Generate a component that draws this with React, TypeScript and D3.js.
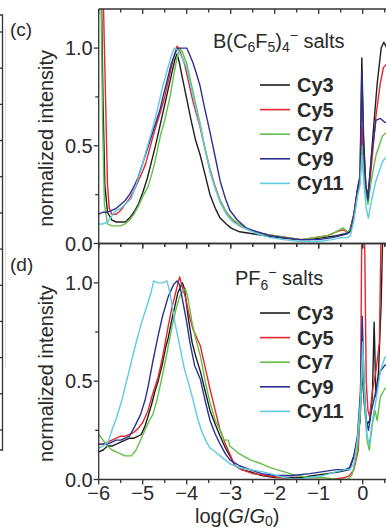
import React from 'react';
import * as d3 from 'd3';

type Pt = [number, number];

const seriesNames = ['Cy3', 'Cy5', 'Cy7', 'Cy9', 'Cy11'];
const seriesColors = ['#1e1e1e', '#e3262d', '#62bf46', '#2d3093', '#5ecbe0'];

const xTickMajor = [-6, -5, -4, -3, -2, -1, 0, 1];
const xTickMinor = [-5.5, -4.5, -3.5, -2.5, -1.5, -0.5, 0.5];
const xLabelTicks = [-6, -5, -4, -3, -2, -1, 0];
const xTickLabels = ['\u22126', '\u22125', '\u22124', '\u22123', '\u22122', '\u22121', '0'];
const yTickMajor = [0, 0.5, 1.0];
const yTickMinor = [0.25, 0.75];
const yTickLabels = ['0.0', '0.5', '1.0'];
const leftPanelTicks = [0, 1, 2, 3, 4, 5, 6, 7, 8, 9, 10, 11];

// Panel (c): B(C6F5)4- salts
const c_Cy3: Pt[] = [[-6.0, 1.3], [-5.94, 1.3], [-5.9, 0.7], [-5.86, 0.3], [-5.8, 0.16], [-5.7, 0.12], [-5.6, 0.11], [-5.5, 0.11], [-5.4, 0.11], [-5.3, 0.13], [-5.2, 0.16], [-5.1, 0.2], [-5.0, 0.26], [-4.9, 0.33], [-4.81, 0.41], [-4.7, 0.51], [-4.6, 0.61], [-4.46, 0.75], [-4.35, 0.86], [-4.27, 0.94], [-4.22, 0.97], [-4.17, 0.93], [-4.1, 0.85], [-4.0, 0.74], [-3.9, 0.63], [-3.8, 0.53], [-3.69, 0.45], [-3.58, 0.35], [-3.47, 0.25], [-3.35, 0.18], [-3.24, 0.13], [-3.1, 0.1], [-3.0, 0.08], [-2.8, 0.06], [-2.5, 0.05], [-2.2, 0.04], [-1.9, 0.03], [-1.5, 0.02], [-1.2, 0.02], [-0.9, 0.03], [-0.6, 0.04], [-0.4, 0.05], [-0.3, 0.06], [-0.2, 0.15], [-0.12, 0.28], [-0.06, 0.35], [-0.02, 0.95], [0.02, 0.55], [0.07, 0.3], [0.12, 0.24], [0.18, 0.4], [0.25, 0.6], [0.33, 0.82], [0.42, 1.0], [0.48, 1.03], [0.55, 1.0], [0.7, 0.98]];
const c_Cy5: Pt[] = [[-6.0, 1.3], [-5.9, 1.3], [-5.84, 0.7], [-5.8, 0.3], [-5.76, 0.18], [-5.7, 0.15], [-5.6, 0.15], [-5.5, 0.17], [-5.4, 0.2], [-5.3, 0.23], [-5.2, 0.27], [-5.1, 0.32], [-5.0, 0.37], [-4.93, 0.41], [-4.8, 0.52], [-4.7, 0.6], [-4.6, 0.67], [-4.5, 0.75], [-4.4, 0.85], [-4.3, 0.95], [-4.22, 1.01], [-4.15, 0.98], [-4.05, 0.92], [-3.95, 0.82], [-3.85, 0.72], [-3.7, 0.6], [-3.6, 0.5], [-3.47, 0.38], [-3.35, 0.29], [-3.24, 0.22], [-3.1, 0.16], [-2.95, 0.12], [-2.8, 0.09], [-2.6, 0.07], [-2.3, 0.05], [-2.0, 0.04], [-1.7, 0.03], [-1.4, 0.02], [-1.1, 0.03], [-0.8, 0.04], [-0.6, 0.06], [-0.45, 0.07], [-0.35, 0.06], [-0.28, 0.07], [-0.2, 0.15], [-0.12, 0.27], [-0.06, 0.33], [-0.02, 0.6], [0.03, 0.4], [0.08, 0.27], [0.12, 0.23], [0.2, 0.4], [0.3, 0.65], [0.4, 0.82], [0.47, 0.9], [0.55, 0.92], [0.7, 0.92]];
const c_Cy7: Pt[] = [[-6.0, 1.3], [-5.95, 1.3], [-5.91, 0.6], [-5.87, 0.2], [-5.8, 0.1], [-5.7, 0.09], [-5.6, 0.09], [-5.5, 0.09], [-5.4, 0.1], [-5.3, 0.12], [-5.2, 0.15], [-5.1, 0.19], [-5.0, 0.24], [-4.88, 0.29], [-4.8, 0.35], [-4.73, 0.41], [-4.6, 0.55], [-4.5, 0.63], [-4.38, 0.75], [-4.28, 0.88], [-4.2, 0.97], [-4.16, 1.0], [-4.1, 0.98], [-4.0, 0.92], [-3.9, 0.82], [-3.8, 0.72], [-3.69, 0.61], [-3.58, 0.48], [-3.47, 0.37], [-3.35, 0.28], [-3.24, 0.22], [-3.1, 0.16], [-3.0, 0.13], [-2.8, 0.1], [-2.6, 0.07], [-2.3, 0.05], [-2.0, 0.04], [-1.7, 0.03], [-1.4, 0.02], [-1.1, 0.03], [-0.8, 0.04], [-0.6, 0.06], [-0.45, 0.08], [-0.35, 0.06], [-0.28, 0.07], [-0.2, 0.13], [-0.12, 0.25], [-0.06, 0.32], [-0.02, 0.5], [0.03, 0.35], [0.08, 0.25], [0.12, 0.2], [0.2, 0.33], [0.3, 0.45], [0.45, 0.55], [0.6, 0.58], [0.7, 0.6]];
const c_Cy9: Pt[] = [[-6.0, 0.15], [-5.9, 0.16], [-5.8, 0.16], [-5.7, 0.17], [-5.6, 0.18], [-5.5, 0.2], [-5.4, 0.22], [-5.3, 0.25], [-5.2, 0.29], [-5.1, 0.34], [-5.0, 0.41], [-4.9, 0.48], [-4.8, 0.55], [-4.7, 0.62], [-4.6, 0.69], [-4.54, 0.75], [-4.45, 0.83], [-4.35, 0.92], [-4.25, 0.98], [-4.2, 1.0], [-4.1, 1.0], [-4.0, 1.0], [-3.92, 0.96], [-3.85, 0.92], [-3.78, 0.87], [-3.7, 0.81], [-3.6, 0.7], [-3.47, 0.57], [-3.35, 0.44], [-3.24, 0.32], [-3.12, 0.23], [-3.02, 0.17], [-2.85, 0.12], [-2.65, 0.08], [-2.4, 0.06], [-2.1, 0.04], [-1.8, 0.03], [-1.4, 0.02], [-1.0, 0.02], [-0.7, 0.03], [-0.5, 0.04], [-0.35, 0.05], [-0.28, 0.06], [-0.2, 0.14], [-0.12, 0.27], [-0.06, 0.33], [-0.02, 0.88], [0.02, 0.5], [0.07, 0.3], [0.12, 0.22], [0.2, 0.45], [0.3, 0.63], [0.4, 0.64], [0.5, 0.62], [0.7, 0.62]];
const c_Cy11: Pt[] = [[-6.0, 0.1], [-5.9, 0.1], [-5.8, 0.11], [-5.7, 0.14], [-5.6, 0.17], [-5.5, 0.18], [-5.4, 0.2], [-5.26, 0.23], [-5.15, 0.3], [-5.05, 0.37], [-4.95, 0.45], [-4.85, 0.53], [-4.75, 0.61], [-4.65, 0.7], [-4.55, 0.8], [-4.45, 0.88], [-4.35, 0.96], [-4.28, 1.0], [-4.2, 0.99], [-4.1, 0.95], [-4.0, 0.9], [-3.9, 0.8], [-3.8, 0.7], [-3.69, 0.6], [-3.58, 0.48], [-3.47, 0.37], [-3.35, 0.28], [-3.24, 0.21], [-3.1, 0.15], [-2.95, 0.11], [-2.7, 0.08], [-2.4, 0.05], [-2.1, 0.03], [-1.8, 0.02], [-1.4, 0.01], [-1.0, 0.01], [-0.7, 0.02], [-0.5, 0.03], [-0.35, 0.03], [-0.28, 0.04], [-0.2, 0.12], [-0.12, 0.24], [-0.06, 0.3], [-0.02, 0.45], [0.03, 0.3], [0.08, 0.18], [0.13, 0.13], [0.2, 0.22], [0.3, 0.32], [0.45, 0.42], [0.6, 0.46], [0.7, 0.48]];

// Panel (d): PF6- salts
const d_Cy3: Pt[] = [[-6.0, 0.14], [-5.9, 0.15], [-5.8, 0.17], [-5.7, 0.17], [-5.6, 0.18], [-5.5, 0.19], [-5.4, 0.2], [-5.3, 0.21], [-5.2, 0.21], [-5.1, 0.22], [-5.03, 0.23], [-4.95, 0.27], [-4.88, 0.32], [-4.8, 0.38], [-4.72, 0.45], [-4.65, 0.5], [-4.55, 0.59], [-4.48, 0.67], [-4.42, 0.72], [-4.35, 0.8], [-4.27, 0.88], [-4.2, 0.95], [-4.1, 1.0], [-4.05, 0.97], [-3.97, 0.83], [-3.88, 0.7], [-3.8, 0.63], [-3.69, 0.55], [-3.58, 0.45], [-3.47, 0.35], [-3.35, 0.28], [-3.24, 0.22], [-3.12, 0.16], [-3.02, 0.12], [-2.9, 0.07], [-2.75, 0.05], [-2.56, 0.04], [-2.3, 0.02], [-2.0, 0.01], [-1.7, 0.01], [-1.4, 0.01], [-1.1, 0.02], [-0.8, 0.03], [-0.5, 0.04], [-0.3, 0.05], [-0.2, 0.12], [-0.12, 0.2], [-0.06, 0.3], [-0.02, 0.55], [0.05, 0.35], [0.1, 0.28], [0.16, 0.3], [0.22, 0.42], [0.26, 0.8], [0.3, 0.42], [0.36, 0.55], [0.42, 0.9], [0.46, 1.3], [0.7, 1.3]];
const d_Cy5: Pt[] = [[-6.0, 0.18], [-5.9, 0.18], [-5.8, 0.19], [-5.7, 0.2], [-5.6, 0.21], [-5.5, 0.22], [-5.4, 0.22], [-5.3, 0.23], [-5.2, 0.24], [-5.1, 0.26], [-5.0, 0.29], [-4.88, 0.35], [-4.78, 0.43], [-4.65, 0.52], [-4.55, 0.62], [-4.42, 0.78], [-4.33, 0.88], [-4.24, 0.96], [-4.16, 1.03], [-4.1, 0.98], [-4.02, 0.92], [-3.95, 0.84], [-3.85, 0.76], [-3.69, 0.68], [-3.58, 0.57], [-3.47, 0.46], [-3.35, 0.35], [-3.24, 0.25], [-3.12, 0.18], [-3.02, 0.13], [-2.9, 0.07], [-2.75, 0.05], [-2.5, 0.03], [-2.2, 0.02], [-1.9, 0.01], [-1.5, 0.0], [-1.1, 0.0], [-0.7, 0.0], [-0.4, 0.01], [-0.3, 0.02], [-0.2, 0.05], [-0.1, 0.15], [-0.05, 0.4], [-0.02, 1.3], [0.04, 1.3], [0.08, 0.5], [0.12, 0.35], [0.16, 0.32], [0.22, 0.45], [0.3, 0.55], [0.38, 0.7], [0.42, 1.3], [0.7, 1.3]];
const d_Cy7: Pt[] = [[-6.0, 0.23], [-5.9, 0.2], [-5.8, 0.17], [-5.7, 0.15], [-5.6, 0.14], [-5.5, 0.13], [-5.4, 0.12], [-5.26, 0.12], [-5.15, 0.15], [-5.05, 0.2], [-4.95, 0.25], [-4.85, 0.3], [-4.77, 0.33], [-4.68, 0.4], [-4.58, 0.5], [-4.47, 0.62], [-4.35, 0.76], [-4.25, 0.86], [-4.16, 0.93], [-4.08, 0.96], [-4.03, 0.97], [-3.97, 0.92], [-3.88, 0.8], [-3.8, 0.72], [-3.69, 0.63], [-3.58, 0.5], [-3.47, 0.39], [-3.35, 0.3], [-3.24, 0.25], [-3.15, 0.2], [-3.05, 0.2], [-3.02, 0.17], [-2.8, 0.13], [-2.56, 0.1], [-2.3, 0.08], [-2.1, 0.06], [-1.8, 0.04], [-1.5, 0.02], [-1.2, 0.01], [-0.9, 0.01], [-0.6, 0.0], [-0.35, 0.0], [-0.25, 0.02], [-0.2, 0.06], [-0.12, 0.15], [-0.05, 0.35], [0.0, 0.6], [0.05, 0.35], [0.1, 0.2], [0.15, 0.15], [0.22, 0.28], [0.28, 0.35], [0.33, 0.3], [0.4, 0.42], [0.5, 0.46], [0.7, 0.5]];
const d_Cy9: Pt[] = [[-6.0, 0.18], [-5.9, 0.18], [-5.8, 0.18], [-5.7, 0.19], [-5.6, 0.2], [-5.5, 0.2], [-5.4, 0.21], [-5.3, 0.22], [-5.18, 0.27], [-5.05, 0.33], [-4.95, 0.4], [-4.88, 0.47], [-4.77, 0.6], [-4.65, 0.73], [-4.55, 0.83], [-4.42, 0.93], [-4.3, 0.99], [-4.22, 1.01], [-4.16, 0.99], [-4.1, 0.92], [-4.0, 0.8], [-3.93, 0.7], [-3.82, 0.58], [-3.69, 0.51], [-3.58, 0.4], [-3.47, 0.3], [-3.35, 0.23], [-3.24, 0.18], [-3.12, 0.13], [-3.02, 0.1], [-2.8, 0.07], [-2.56, 0.05], [-2.3, 0.03], [-2.0, 0.02], [-1.6, 0.02], [-1.2, 0.03], [-0.9, 0.04], [-0.6, 0.05], [-0.4, 0.05], [-0.3, 0.06], [-0.2, 0.12], [-0.12, 0.22], [-0.05, 0.45], [-0.01, 0.83], [0.03, 0.5], [0.08, 0.3], [0.13, 0.25], [0.2, 0.35], [0.3, 0.45], [0.4, 0.55], [0.5, 0.58], [0.7, 0.6]];
const d_Cy11: Pt[] = [[-6.0, 0.16], [-5.9, 0.17], [-5.79, 0.19], [-5.7, 0.25], [-5.6, 0.31], [-5.49, 0.39], [-5.4, 0.47], [-5.3, 0.56], [-5.18, 0.67], [-5.05, 0.78], [-4.95, 0.85], [-4.88, 0.9], [-4.8, 0.96], [-4.75, 1.01], [-4.65, 1.0], [-4.55, 1.0], [-4.45, 1.01], [-4.38, 0.95], [-4.27, 0.8], [-4.15, 0.67], [-4.05, 0.56], [-3.97, 0.5], [-3.85, 0.4], [-3.74, 0.3], [-3.65, 0.24], [-3.55, 0.19], [-3.47, 0.16], [-3.35, 0.14], [-3.24, 0.12], [-3.02, 0.08], [-2.8, 0.06], [-2.56, 0.05], [-2.3, 0.04], [-2.1, 0.03], [-1.8, 0.01], [-1.5, 0.0], [-1.2, 0.01], [-0.9, 0.02], [-0.6, 0.04], [-0.4, 0.05], [-0.3, 0.05], [-0.2, 0.08], [-0.12, 0.2], [-0.05, 0.4], [0.0, 0.7], [0.05, 0.4], [0.1, 0.22], [0.15, 0.18], [0.22, 0.3], [0.3, 0.4], [0.4, 0.55], [0.5, 0.62], [0.7, 0.65]];

const panelCData = [c_Cy3, c_Cy5, c_Cy7, c_Cy9, c_Cy11];
const panelDData = [d_Cy3, d_Cy5, d_Cy7, d_Cy9, d_Cy11];

const W = 386;
const H = 531;
const FONT = 'Liberation Sans, Arial, Helvetica, sans-serif';
const TXT = '#2a2a2a';
const AX = '#333';

const x = d3.scaleLinear().domain([-6, 1]).range([98.7, 406.7]);
const yC = d3.scaleLinear().domain([0, 1.2]).range([243.5, 9]);
const yD = d3.scaleLinear().domain([0, 1.2]).range([479.5, 243.5]);
const leftY = d3.scaleLinear().domain([0, 11]).range([32, 430]);

function Panel(props: {
  id: string;
  y: d3.ScaleLinear<number, number>;
  data: Pt[][];
  label: string;
  title: React.ReactNode;
  titleX: number;
  titleY: number;
  legendTop: number;
  showXLabels: boolean;
}) {
  const { id, y, data, label, title, titleX, titleY, legendTop, showXLabels } = props;
  const line = d3
    .line<Pt>()
    .x((d) => x(d[0]))
    .y((d) => y(d[1]));
  const top = y(1.2);
  const bottom = y(0);
  const left = x(-6);
  const legendStep = 24.6;
  return (
    <g>
      <defs>
        <clipPath id={id}>
          <rect x={left} y={top} width={W - left} height={bottom - top} />
        </clipPath>
      </defs>
      <g clipPath={`url(#${id})`}>
        {data.map((s, i) => (
          <path key={i} d={line(s) || ''} fill="none" stroke={seriesColors[i]} strokeWidth={1.4} strokeLinejoin="round" />
        ))}
      </g>
      <line x1={left} x2={W} y1={top} y2={top} stroke={AX} strokeWidth={1.3} />
      <line x1={left} x2={W} y1={bottom} y2={bottom} stroke={AX} strokeWidth={1.3} />
      <line x1={left} x2={left} y1={top} y2={bottom} stroke={AX} strokeWidth={1.3} />
      {[top, bottom].map((yy, k) => (
        <g key={k}>
          {xTickMajor.map((t) => (
            <line key={'M' + t} x1={x(t)} x2={x(t)} y1={yy} y2={yy + 5} stroke={AX} strokeWidth={1.3} />
          ))}
          {xTickMinor.map((t) => (
            <line key={'m' + t} x1={x(t)} x2={x(t)} y1={yy} y2={yy + 3.5} stroke={AX} strokeWidth={1.3} />
          ))}
        </g>
      ))}
      {yTickMajor.map((t, i) => (
        <g key={'y' + t}>
          <line x1={left - 5} x2={left} y1={y(t)} y2={y(t)} stroke={AX} strokeWidth={1.3} />
          <text x={left - 6} y={y(t) + 7} textAnchor="end" fontSize={20} fill={TXT} fontFamily={FONT}>
            {yTickLabels[i]}
          </text>
        </g>
      ))}
      {yTickMinor.map((t) => (
        <line key={'ym' + t} x1={left - 3.5} x2={left} y1={y(t)} y2={y(t)} stroke={AX} strokeWidth={1.3} />
      ))}
      {showXLabels &&
        xLabelTicks.map((t, i) => (
          <text key={'xl' + t} x={x(t)} y={bottom + 20.5} textAnchor="middle" fontSize={20} fill={TXT} fontFamily={FONT}>
            {xTickLabels[i]}
          </text>
        ))}
      <text
        transform={`translate(53,${(top + bottom) / 2 + 12}) rotate(-90)`}
        textAnchor="middle"
        fontSize={20}
        fill={TXT}
        fontFamily={FONT}
      >
        normalized intensity
      </text>
      <text x={10} y={top + 27} fontSize={19} fill={TXT} fontFamily={FONT}>
        {label}
      </text>
      <text x={titleX} y={titleY} fontSize={20} fill={TXT} fontFamily={FONT}>
        {title}
      </text>
      {seriesNames.map((n, i) => (
        <g key={n}>
          <line x1={260} x2={290} y1={legendTop + i * legendStep} y2={legendTop + i * legendStep} stroke={seriesColors[i]} strokeWidth={1.6} />
          <text x={297} y={legendTop + i * legendStep + 7} fontSize={20} fontWeight="bold" fill={TXT} fontFamily={FONT}>
            {n}
          </text>
        </g>
      ))}
    </g>
  );
}

export default function App() {
  return (
    <svg
      width={W}
      height={H}
      viewBox={`0 0 ${W} ${H}`}
      style={{ position: 'absolute', left: 0, top: 0, display: 'block', background: '#fff' }}
    >
      <rect x={0} y={0} width={W} height={H} fill="#fff" />
      <path d="M0,15 H2.5 V450 H0" fill="none" stroke={AX} strokeWidth={1.3} />
      <line x1={5.5} x2={5.5} y1={28} y2={367} stroke="#f2d4d6" strokeWidth={1} />
      {leftPanelTicks.map((t) => (
        <line key={t} x1={0} x2={2.5} y1={leftY(t)} y2={leftY(t)} stroke={AX} strokeWidth={1.3} />
      ))}
      <Panel
        id="clipC"
        y={yC}
        data={panelCData}
        label="(c)"
        titleX={213}
        titleY={48}
        title={
          <>
            <tspan>B(C</tspan>
            <tspan fontSize={14} dy={4}>6</tspan>
            <tspan dy={-4}>F</tspan>
            <tspan fontSize={14} dy={4}>5</tspan>
            <tspan dy={-4}>)</tspan>
            <tspan fontSize={14} dy={4}>4</tspan>
            <tspan fontSize={14} dy={-12}>{'\u2212'}</tspan>
            <tspan dy={8}> salts</tspan>
          </>
        }
        legendTop={85}
        showXLabels={false}
      />
      <Panel
        id="clipD"
        y={yD}
        data={panelDData}
        label="(d)"
        titleX={235}
        titleY={284.5}
        title={
          <>
            <tspan>PF</tspan>
            <tspan fontSize={14} dy={5}>6</tspan>
            <tspan fontSize={14} dy={-13}>{'\u2212'}</tspan>
            <tspan dy={8}> salts</tspan>
          </>
        }
        legendTop={313}
        showXLabels={true}
      />
      <text x={195} y={523} fontSize={20} fill={TXT} fontFamily={FONT}>
        <tspan>log(</tspan>
        <tspan fontStyle="italic">G</tspan>
        <tspan>/</tspan>
        <tspan fontStyle="italic">G</tspan>
        <tspan fontSize={14} dy={3}>0</tspan>
        <tspan dy={-3}>)</tspan>
      </text>
    </svg>
  );
}
